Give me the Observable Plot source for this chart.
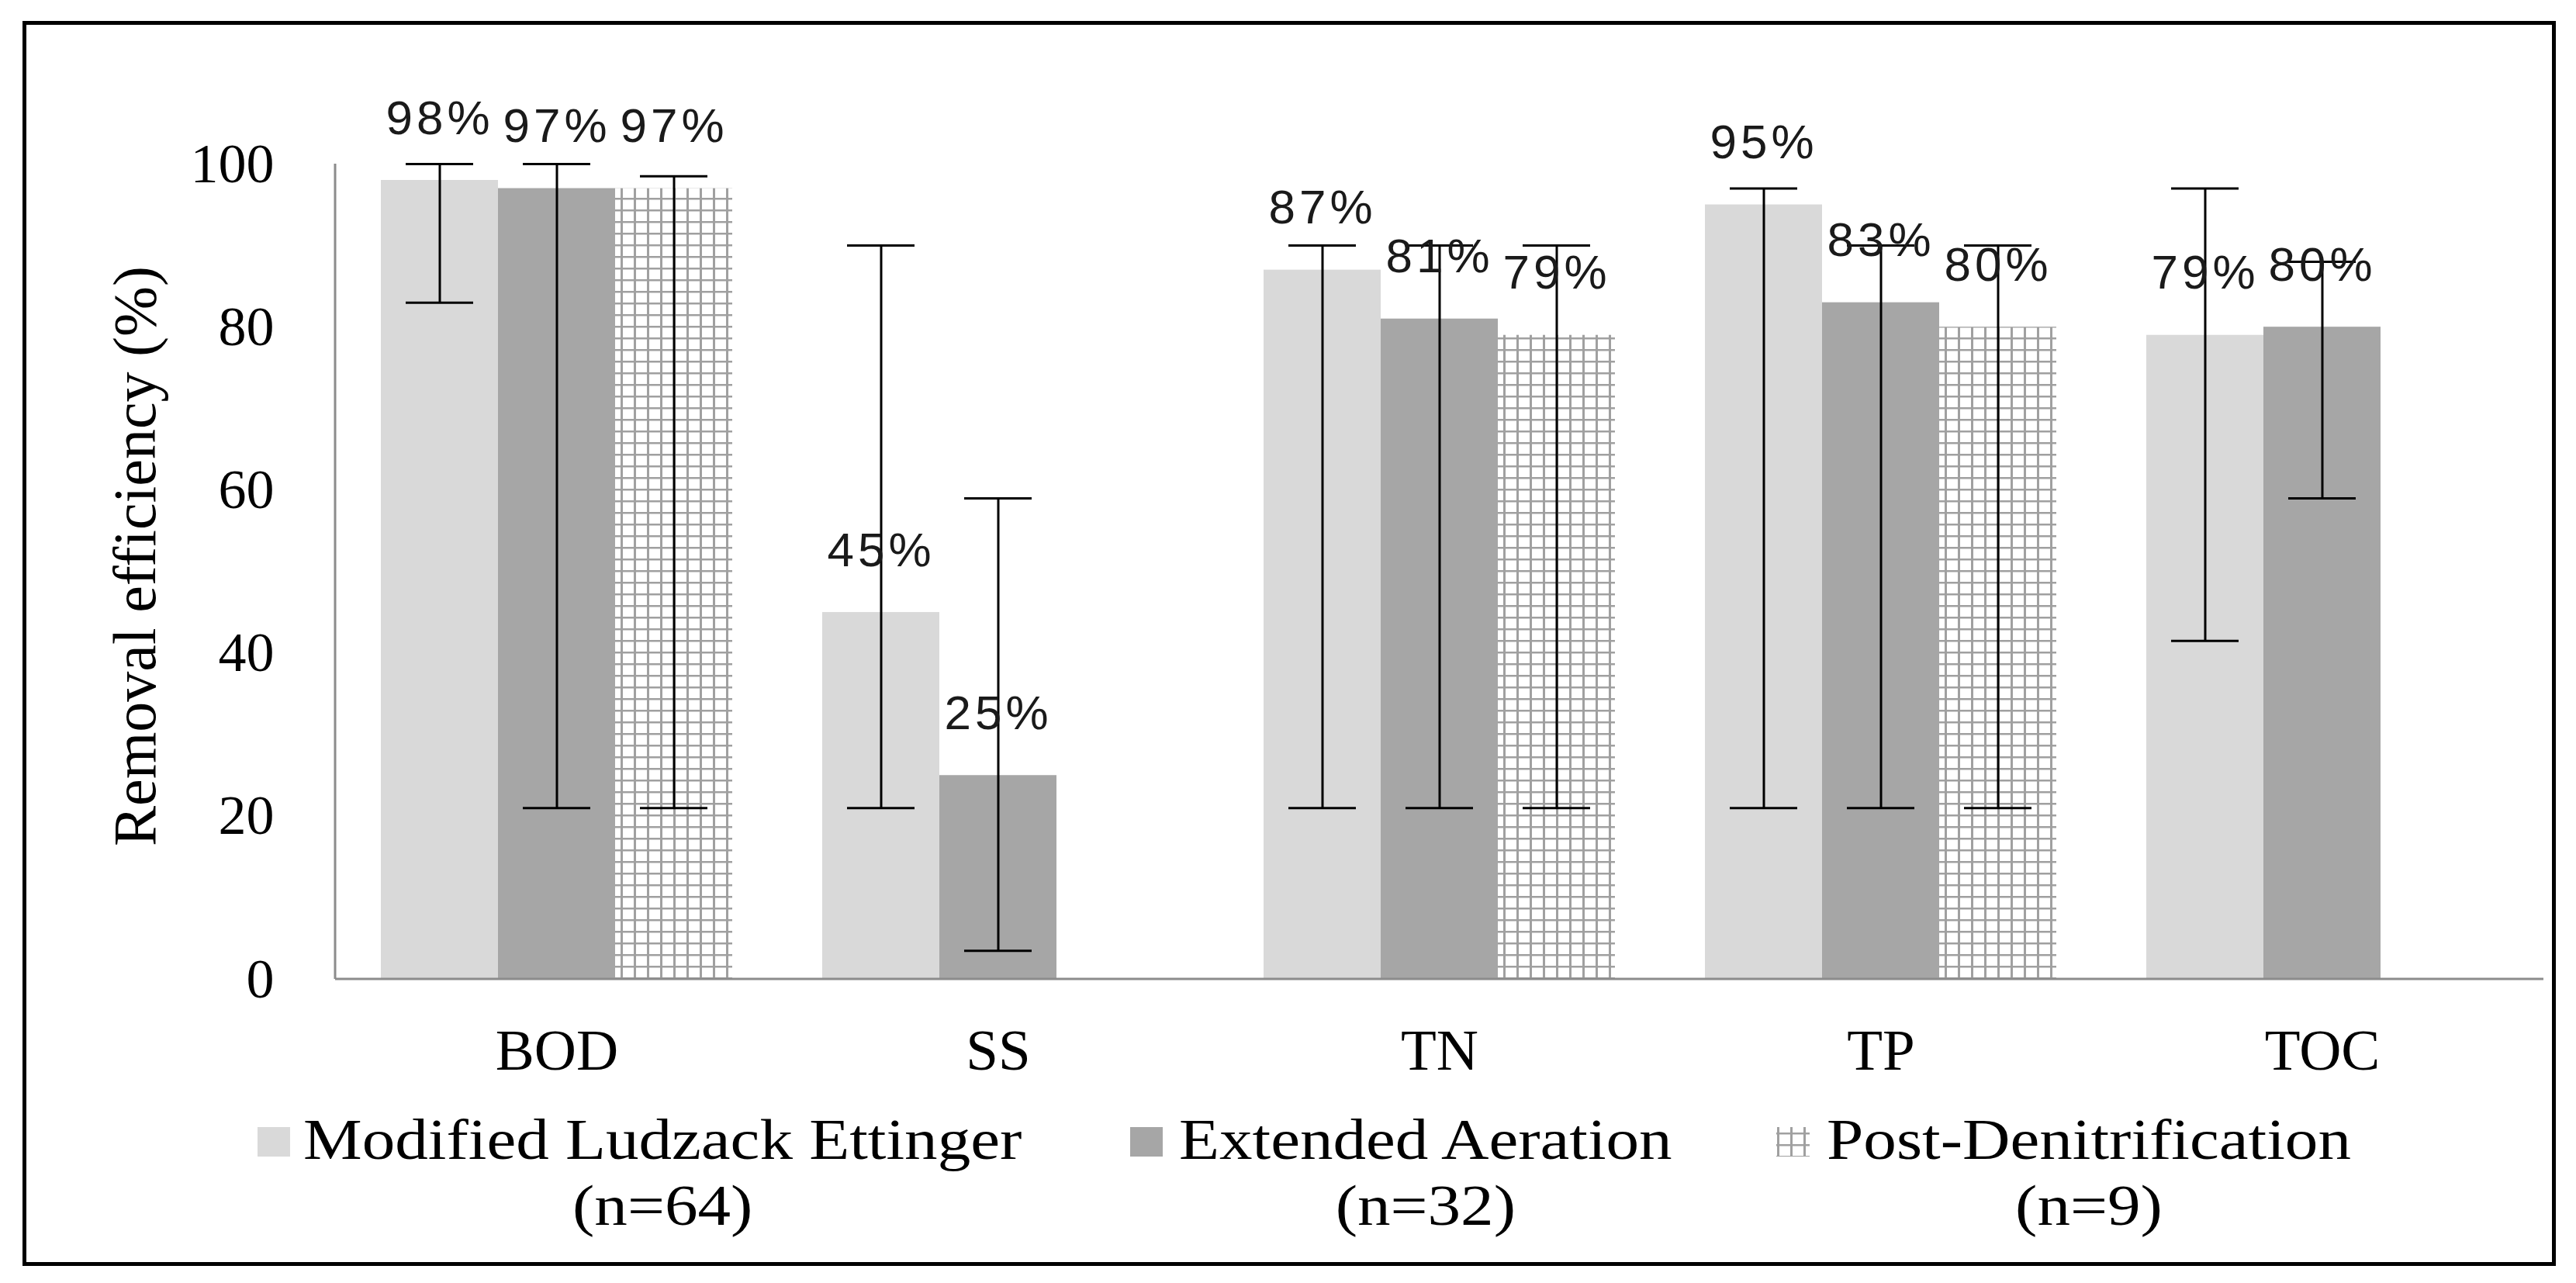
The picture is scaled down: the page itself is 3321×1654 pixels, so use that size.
<!DOCTYPE html>
<html><head><meta charset="utf-8">
<script src="https://cdn.jsdelivr.net/npm/d3@7"></script>
<script src="https://cdn.jsdelivr.net/npm/@observablehq/plot@0.6"></script>
<style>
html,body{margin:0;padding:0;background:#fff;}
#wrap{position:relative;width:3321px;height:1654px;overflow:hidden;background:#fff;}
#frame{position:absolute;left:29px;top:27px;width:3266px;height:1605px;box-sizing:border-box;border:5px solid #000;}
#chart{position:absolute;left:0;top:0;}
#chart g[aria-label="text"] text{letter-spacing:5px;}
.sw{position:absolute;}
.lt{position:absolute;font-family:"Liberation Serif",serif;font-size:74px;line-height:85px;text-align:center;white-space:nowrap;transform:scaleX(1.15);transform-origin:0 0;color:#000;}
</style></head><body>
<div id="wrap"><div id="frame"></div><div id="chart"></div><div id="legend"></div></div>
<script>
// ---- data ----
const categories = ["BOD", "SS", "TN", "TP", "TOC"];
const processes = ["Modified Ludzack Ettinger", "Extended Aeration", "Post-Denitrification"];
const sampleSizes = ["(n=64)", "(n=32)", "(n=9)"];
const mleMean = [98, 45, 87, 95, 79];
const mleHigh = [100, 90, 90, 97, 97];
const mleLow  = [83, 21, 21, 21, 41.5];
const eaMean  = [97, 25, 81, 83, 80];
const eaHigh  = [100, 59, 90, 90, 88];
const eaLow   = [21, 3.5, 21, 21, 59];
const pdMean  = [97, null, 79, 80, null];
const pdHigh  = [98.5, null, 90, 90, null];
const pdLow   = [21, null, 21, 21, null];
const yTicks = [0, 20, 40, 60, 80, 100];
const yTitle = "Removal efficiency (%)";

// ---- styles ----
const fills = ["#d9d9d9", "#a6a6a6", "url(#pd-grid)"];
const gridColor = "#a0a0a0";
const axisColor = "#8c8c8c";

const series = [[mleMean, mleHigh, mleLow], [eaMean, eaHigh, eaLow], [pdMean, pdHigh, pdLow]];
const rows = [];
categories.forEach((cat, i) => {
  processes.forEach((proc, j) => {
    const [m, h, l] = series[j];
    if (m[i] != null) rows.push({cat, proc, value: m[i], high: h[i], low: l[i]});
  });
});

const W = 3321, ML = 432, MR = 42;
const plot = Plot.plot({
  width: W, height: 1400,
  marginLeft: ML, marginRight: MR, marginTop: 211, marginBottom: 138,
  style: {fontFamily: '"Liberation Serif", serif', fontSize: "72px", background: "transparent", color: "#000", overflow: "visible"},
  fx: {domain: categories, padding: 0, label: null},
  x: {domain: processes, paddingInner: 0, paddingOuter: 0.373, axis: null},
  y: {domain: [0, 100], label: null},
  color: {domain: processes, range: fills},
  marks: [
    Plot.barY(rows, {fx: "cat", x: "proc", y: "value", fill: "proc"}),
    Plot.ruleX(rows, {fx: "cat", x: "proc", y1: "low", y2: "high", stroke: "#000", strokeWidth: 3}),
    Plot.tickY(rows, {fx: "cat", x: "proc", y: "high", stroke: "#000", strokeWidth: 3, insetLeft: 32, insetRight: 32}),
    Plot.tickY(rows, {fx: "cat", x: "proc", y: "low", stroke: "#000", strokeWidth: 3, insetLeft: 32, insetRight: 32}),
    Plot.text(rows, {fx: "cat", x: "proc", y: "value", text: d => `${d.value}%`, lineAnchor: "bottom", dy: -60,
      fontSize: 62, fontFamily: '"Liberation Sans", sans-serif', fill: "#1a1a1a"}),
    Plot.axisY({ticks: yTicks, tickSize: 0, tickPadding: 80, fontSize: 72, label: null}),
    Plot.axisFx({anchor: "bottom", tickSize: 0, tickPadding: 63, fontSize: 75, label: null})
  ]
});

const svg = d3.select(plot);
const defs = svg.insert("defs", ":first-child");
const pat = defs.append("pattern").attr("id", "pd-grid").attr("patternUnits", "userSpaceOnUse").attr("width", 17).attr("height", 15);
pat.append("rect").attr("width", 17).attr("height", 15).attr("fill", "#fff");
pat.append("rect").attr("width", 3).attr("height", 15).attr("fill", gridColor);
pat.append("rect").attr("width", 17).attr("height", 2.5).attr("fill", gridColor);

const ys = plot.scale("y");
// value axis line and category baseline, placed with Plot's y scale
svg.append("line").attr("x1", ML).attr("x2", ML)
  .attr("y1", ys.apply(0)).attr("y2", ys.apply(100))
  .attr("stroke", axisColor).attr("stroke-width", 3);
svg.append("line").attr("x1", ML).attr("x2", W - MR)
  .attr("y1", ys.apply(0)).attr("y2", ys.apply(0))
  .attr("stroke", axisColor).attr("stroke-width", 3);
svg.append("text").attr("transform", `translate(200,717) rotate(-90)`)
  .attr("text-anchor", "middle").attr("font-family", '"Liberation Serif", serif')
  .attr("font-size", 78).attr("fill", "#000").text(yTitle);

document.getElementById("chart").appendChild(plot);

// ---- legend (below the svg) ----
const legend = document.getElementById("legend");
const swatchLeft = [332, 1457, 2290];
const textLeft = [391, 1520, 2355];
processes.forEach((p, i) => {
  const sw = document.createElement("div");
  sw.className = "sw";
  sw.style.left = swatchLeft[i] + "px";
  sw.style.top = "1453px";
  sw.style.width = "42px";
  sw.style.height = "38px";
  if (i < 2) sw.style.background = fills[i];
  else {
    sw.innerHTML = `<svg width="43" height="38"><defs><pattern id="pd-grid-lg" patternUnits="userSpaceOnUse" width="17" height="15" x="1" y="7"><rect width="17" height="15" fill="#fff"/><rect width="3" height="15" fill="${gridColor}"/><rect width="17" height="2.5" fill="${gridColor}"/></pattern></defs><rect width="43" height="38" fill="url(#pd-grid-lg)"/></svg>`;
  }
  legend.appendChild(sw);
  const t = document.createElement("div");
  t.className = "lt";
  t.style.left = textLeft[i] + "px";
  t.style.top = "1427px";
  t.innerHTML = `${p}<br>${sampleSizes[i]}`;
  legend.appendChild(t);
});
</script>
</body></html>
